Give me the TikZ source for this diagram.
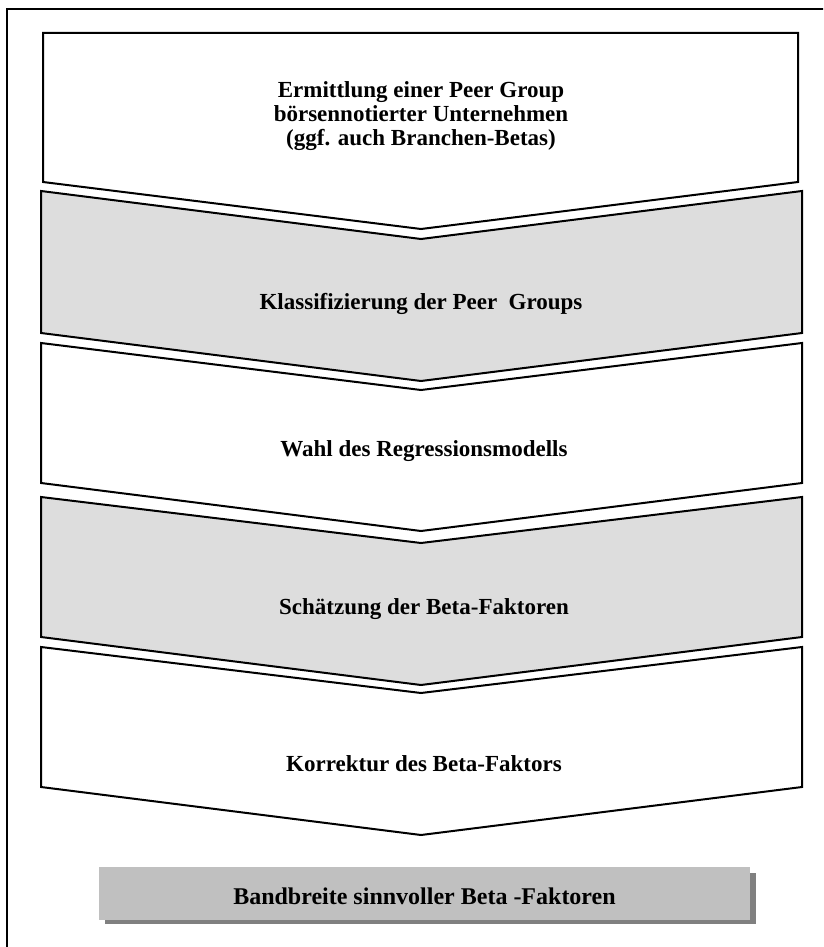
\documentclass[tikz,border=0pt]{standalone}
\usepackage{fontspec}
\setmainfont{Liberation Serif}
\definecolor{lightfill}{RGB}{221,221,221}
\definecolor{boxfill}{RGB}{192,192,192}
\definecolor{shadowfill}{RGB}{128,128,128}
\tikzset{
  stage/.style={draw=black, line width=2pt, line join=miter},
  whitestage/.style={stage, fill=white},
  greystage/.style={stage, fill=lightfill},
  label/.style={font=\bfseries\fontsize{23}{24}\selectfont, align=center, inner sep=0pt, text=black},
}
\begin{document}
\begin{tikzpicture}[x=1pt, y=-1pt]
\useasboundingbox (0,0) rectangle (823,947);
\clip (0,0) rectangle (823,947);
\fill[white] (0,0) rectangle (823,947);
% outer frame (extends past right and bottom edges)
\draw[line width=2pt] (7,9) rectangle (840,965);
% stages
\draw[whitestage] (43,33) -- (798,33) -- (798,182) -- (421,229) -- (43,182) -- cycle;
\draw[greystage] (41,191) -- (421,239) -- (802,191) -- (802,333) -- (421,381) -- (41,333) -- cycle;
\draw[whitestage] (41,343) -- (421,390) -- (802,343) -- (802,483) -- (421,531) -- (41,483) -- cycle;
\draw[greystage] (41,497) -- (421,543) -- (802,497) -- (802,637) -- (421,685) -- (41,637) -- cycle;
\draw[whitestage] (41,647) -- (421,693) -- (802,647) -- (802,787) -- (421,835) -- (41,787) -- cycle;
% labels
\node[label] (s1) at (421,116) {Ermittlung einer Peer Group\\börsennotierter Unternehmen\\(ggf. auch Branchen-Betas)};
\node[label] (s2) at (421,304) {Klassifizierung der Peer\ \ Groups};
\node[label] (s3) at (424,451) {Wahl des Regressionsmodells};
\node[label] (s4) at (424,609) {Schätzung der Beta-Faktoren};
\node[label] (s5) at (424,764) {Korrektur des Beta-Faktors};
% result box with shadow
\fill[shadowfill] (105,873) rectangle (756,924);
\fill[boxfill] (99,867) rectangle (750,920);
\node[label, font=\bfseries\fontsize{24}{24}\selectfont] (res) at (424.5,896) {Bandbreite sinnvoller Beta -Faktoren};
\end{tikzpicture}
\end{document}
